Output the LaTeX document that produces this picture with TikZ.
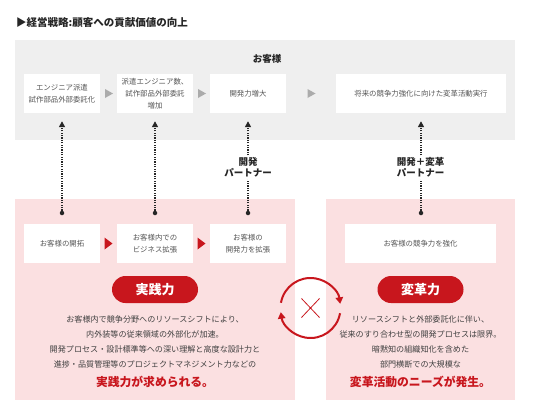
\documentclass[tikz,border=0pt]{standalone}
\usepackage{fontspec}
\setmainfont{Noto Sans CJK JP}
\usetikzlibrary{arrows.meta,calc}
\definecolor{redc}{HTML}{C8161D}
\definecolor{pinkc}{HTML}{FBE0E1}
\definecolor{grayc}{HTML}{EFEFEF}
\definecolor{trig}{HTML}{ABABAB}
\definecolor{txtc}{HTML}{555555}
\begin{document}
\begin{tikzpicture}[x=1pt,y=-1pt,
  wbox/.style={fill=white,draw=none,minimum height=39pt,minimum width=76pt,inner sep=1pt,align=center,text=txtc,font=\fontsize{7.4}{12}\selectfont},
  plab/.style={fill=white,inner sep=1pt,align=center,font=\fontsize{9.5}{11.5}\selectfont\bfseries,text=black!85},
  dotline/.style={line width=1.6pt,dash pattern=on 1.2pt off 1.2pt,black!85},
  dotarrow/.style={dotline,-{Triangle[width=6pt,length=6pt]},shorten >=8pt},
  pill/.style={fill=redc,rounded corners=13.5pt,minimum width=86pt,minimum height=27pt,text=white,font=\fontsize{13}{15}\selectfont\bfseries,inner sep=0},
  body/.style={align=center,text=black!75,font=\fontsize{8.1}{15}\selectfont},
  redtxt/.style={text=redc,font=\fontsize{11.8}{14}\selectfont\bfseries},
  dotc/.style={circle,fill=black!85,minimum size=4.5pt,inner sep=0},
]
\useasboundingbox (0,0) rectangle (533,415);
% title
\node[anchor=west,inner sep=0,text=black!85,font=\fontsize{10.5}{12}\selectfont\bfseries] (title) at (16,23) {▶経営戦略:顧客への貢献価値の向上};
% gray band
\node[fill=grayc,minimum width=500pt,minimum height=100pt,inner sep=0,anchor=north west] (cust) at (15,40) {};
\node[font=\fontsize{9.5}{11}\selectfont\bfseries,text=black!85] (custlab) at (267,59) {お客様};
% pink panels
\node[fill=pinkc,minimum width=280pt,minimum height=201pt,inner sep=0,anchor=north west] (lp) at (15,199) {};
\node[fill=pinkc,minimum width=189pt,minimum height=201pt,inner sep=0,anchor=north west] (rp) at (326,199) {};
% top boxes
\node[wbox] (t1) at (62,93.5) {エンジニア派遣\\試作部品外部委託化};
\node[wbox] (t2) at (155,93.5) {派遣エンジニア数、\\試作部品外部委託\\増加};
\node[wbox] (t3) at (248,93.5) {開発力増大};
\node[wbox,minimum width=170pt] (t4) at (421,93.5) {将来の競争力強化に向けた変革活動実行};
% gray triangles
\foreach \a/\b in {t1/t2,t2/t3,t3/t4}{
  \fill[trig] ($(\a.east)!0.5!(\b.west)$) ++(-3.5,-4.5) -- ++(8,4.5) -- ++(-8,4.5) -- cycle;
}
% bottom boxes
\node[wbox] (b1) at (62,243.5) {お客様の開拓};
\node[wbox] (b2) at (155,243.5) {お客様内での\\ビジネス拡張};
\node[wbox] (b3) at (248,243.5) {お客様の\\開発力を拡張};
\node[wbox,minimum width=151pt] (b4) at (420.5,243.5) {お客様の競争力を強化};
% red triangles
\foreach \a/\b in {b1/b2,b2/b3}{
  \fill[redc] ($(\a.east)!0.5!(\b.west)$) ++(-4,-6) -- ++(8,6) -- ++(-8,6) -- cycle;
}
% dots and dotted arrows
\node[dotc] (d1) at (62,213) {};
\node[dotc] (d2) at (155,213) {};
\node[dotc] (d3) at (248,213) {};
\node[dotc] (d4) at (421,213) {};
\draw[dotarrow] (d1.center) -- (t1.south);
\draw[dotarrow] (d2.center) -- (t2.south);
\draw[dotarrow] (d3.center) -- (t3.south);
\draw[dotarrow] (d4.center) -- ($(t4.south)$);
\node[plab] (l3) at (248,167.5) {開発\\パートナー};
\node[plab] (l4) at (420.5,167.5) {開発＋変革\\パートナー};
% pills
\node[pill] (p1) at (155,289.5) {実践力};
\node[pill] (p2) at (420.5,289.5) {変革力};
% body text
\node[body,anchor=north] (tx1) at (155,312.5) {お客様内で競争分野へのリソースシフトにより、\\内外装等の従来領域の外部化が加速。\\開発プロセス・設計標準等への深い理解と高度な設計力と\\進捗・品質管理等のプロジェクトマネジメント力などの};
\node[redtxt] (rt1) at (155,382) {実践力が求められる。};
\node[body,anchor=north] (tx2) at (420.5,312.5) {リソースシフトと外部委託化に伴い、\\従来のすり合わせ型の開発プロセスは限界。\\暗黙知の組織知化を含めた\\部門横断での大規模な};
\node[redtxt] (rt2) at (420.5,382) {変革活動のニーズが発生。};
% cycle
\node[circle,minimum size=60pt,inner sep=0] (cyc) at (310.5,308) {};
\begin{scope}[shift={(cyc.center)},x=1pt,y=1pt]
  \draw[redc,line width=2pt,-{Triangle[width=7.5pt,length=6.5pt]}] (170:30) arc[start angle=170,end angle=8,radius=30];
  \draw[redc,line width=2pt,-{Triangle[width=7.5pt,length=6.5pt]}] (-10:30) arc[start angle=-10,end angle=-172,radius=30];
  \draw[redc,line width=0.8pt] (-9,9.5) -- (9,-9.5) (-9,-9.5) -- (9,9.5);
\end{scope}
\end{tikzpicture}
\end{document}
